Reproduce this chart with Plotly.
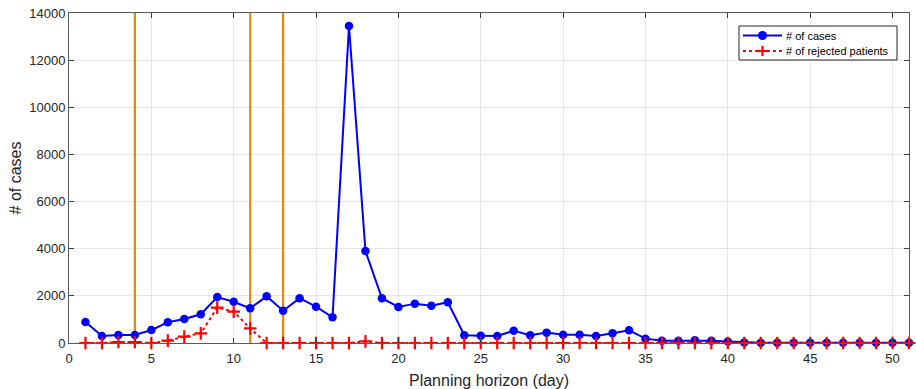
import plotly.graph_objects as go

days = list(range(1, 52))
cases = [890, 300, 340, 340, 550, 880, 1020, 1220, 1950, 1750,
         1470, 1980, 1370, 1900, 1540, 1090, 13450, 3900, 1900, 1530,
         1670, 1580, 1730, 330, 310, 300, 520, 330, 440, 350,
         350, 300, 410, 540, 185, 100, 100, 115, 100, 60,
         20, 10, 10, 10, 10, 10, 10, 10, 10, 10, 10]
rejected = [0, 0, 40, 40, 0, 100, 270, 410, 1500, 1330,
            620, 0, 0, 0, 0, 0, 0, 70, 0, 0,
            0, 0, 0, 0, 0, 0, 0, 0, 0, 0,
            0, 0, 0, 0, 0, 0, 0, 0, 0, 0,
            0, 0, 0, 0, 0, 0, 0, 0, 0, 0, 0]
vlines = [4, 11, 13]
x_ticks = [0, 5, 10, 15, 20, 25, 30, 35, 40, 45, 50]
y_ticks = [0, 2000, 4000, 6000, 8000, 10000, 12000, 14000]
legend_labels = ["# of cases", "# of rejected patients"]

W, H = 916, 389
ML, MR, MT, MB = 69, 7, 13, 46
PW, PH = W - ML - MR, H - MT - MB


def px(x):
    return (x - ML) / PW


def py(y):
    return (H - MB - y) / PH


fig = go.Figure()
for v in vlines:
    fig.add_trace(go.Scatter(x=[v, v], y=[0, 14000], mode="lines",
                             line=dict(color="#E8870E", width=2.2),
                             showlegend=False, hoverinfo="skip"))
fig.add_trace(go.Scatter(x=days, y=cases, mode="lines+markers", name=legend_labels[0],
                         line=dict(color="#0000FF", width=2), cliponaxis=False,
                         showlegend=False,
                         marker=dict(symbol="circle", size=8.5, color="#0000FF")))
fig.add_trace(go.Scatter(x=days, y=rejected, mode="lines+markers", name=legend_labels[1],
                         line=dict(color="#FF0000", width=2, dash="dot"), cliponaxis=False,
                         showlegend=False,
                         marker=dict(symbol="cross-thin", size=9,
                                     line=dict(color="#FF0000", width=2.2), color="#FF0000")))

# manual legend (MATLAB style)
shapes = [dict(type="rect", xref="paper", yref="paper",
               x0=px(739), x1=px(897), y0=py(26), y1=py(60),
               fillcolor="white", line=dict(color="#262626", width=1), layer="above")]
rows = [35.5, 51]
shapes.append(dict(type="line", xref="paper", yref="paper", x0=px(743), x1=px(782),
                   y0=py(rows[0]), y1=py(rows[0]), line=dict(color="#0000FF", width=2), layer="above"))
shapes.append(dict(type="circle", xref="paper", yref="paper", x0=px(758), x1=px(767),
                   y0=py(rows[0] + 4.5), y1=py(rows[0] - 4.5),
                   fillcolor="#0000FF", line=dict(color="#0000FF", width=0), layer="above"))
shapes.append(dict(type="line", xref="paper", yref="paper", x0=px(743), x1=px(782),
                   y0=py(rows[1]), y1=py(rows[1]),
                   line=dict(color="#FF0000", width=2, dash="dot"), layer="above"))
shapes.append(dict(type="line", xref="paper", yref="paper", x0=px(757.5), x1=px(767.5),
                   y0=py(rows[1]), y1=py(rows[1]), line=dict(color="#FF0000", width=2.2), layer="above"))
shapes.append(dict(type="line", xref="paper", yref="paper", x0=px(762.5), x1=px(762.5),
                   y0=py(rows[1] - 5), y1=py(rows[1] + 5),
                   line=dict(color="#FF0000", width=2.2), layer="above"))
annotations = []
for lab, r in zip(legend_labels, rows):
    annotations.append(dict(text=lab, xref="paper", yref="paper", x=px(784), y=py(r),
                            xanchor="left", yanchor="middle", showarrow=False,
                            font=dict(size=11, color="black", family="Liberation Sans, Arial")))

axis_common = dict(showline=True, linecolor="#5A5A5A", linewidth=1, mirror="ticks",
                   ticks="inside", ticklen=5, tickcolor="#404040", automargin=False,
                   showgrid=True, gridcolor="#E6E6E6", gridwidth=1, zeroline=False,
                   tickfont=dict(family="Liberation Sans, Arial", size=13, color="#262626"))

fig.update_layout(
    width=W, height=H,
    margin=dict(l=ML, r=MR, t=MT, b=MB),
    plot_bgcolor="white", paper_bgcolor="white",
    font=dict(family="Liberation Sans, Arial", color="#262626"),
    showlegend=False,
    shapes=shapes, annotations=annotations,
    xaxis=dict(range=[0, 51], tickvals=x_ticks, ticktext=[str(t) for t in x_ticks],
               ticklabelstandoff=3,
               title=dict(text="Planning horizon (day)", font=dict(size=16), standoff=11),
               **axis_common),
    yaxis=dict(range=[0, 14000], tickvals=y_ticks, ticktext=[str(t) for t in y_ticks],
               title=dict(text="# of cases", font=dict(size=16), standoff=3),
               **axis_common),
)

fig.write_html("out.html", config={"displayModeBar": False},
               post_script="document.body.style.margin='0px';document.body.style.padding='0px';")
